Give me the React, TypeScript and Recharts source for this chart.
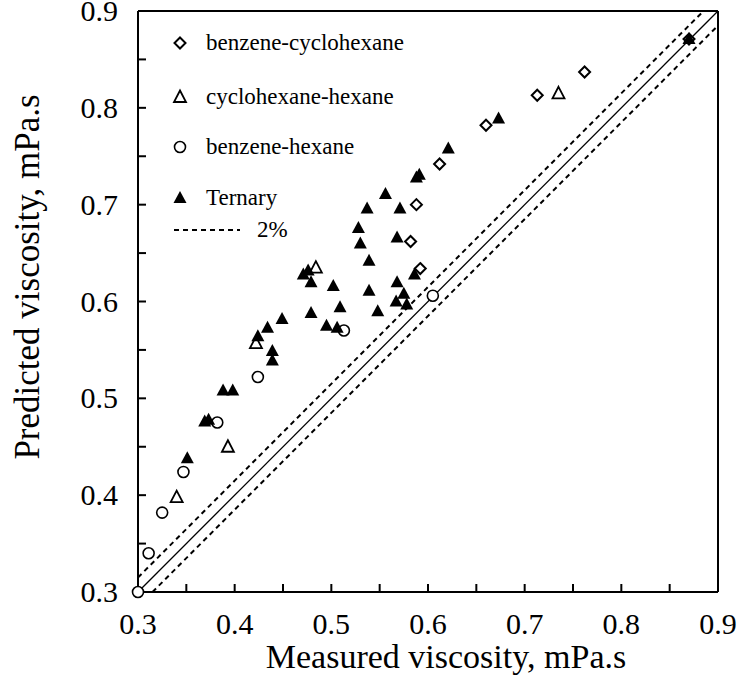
import {
  ScatterChart,
  Scatter,
  XAxis,
  YAxis,
  ReferenceLine,
  Customized,
} from 'recharts'

// measured (x) vs predicted (y) viscosity, mPa.s
const benzeneCyclohexane = [
  { x: 0.592, y: 0.634 },
  { x: 0.582, y: 0.662 },
  { x: 0.588, y: 0.700 },
  { x: 0.612, y: 0.742 },
  { x: 0.660, y: 0.782 },
  { x: 0.713, y: 0.813 },
  { x: 0.762, y: 0.837 },
  { x: 0.870, y: 0.871 },
]

const cyclohexaneHexane = [
  { x: 0.340, y: 0.398 },
  { x: 0.393, y: 0.450 },
  { x: 0.422, y: 0.557 },
  { x: 0.484, y: 0.635 },
  { x: 0.735, y: 0.815 },
]

const benzeneHexane = [
  { x: 0.300, y: 0.300 },
  { x: 0.311, y: 0.340 },
  { x: 0.325, y: 0.382 },
  { x: 0.347, y: 0.424 },
  { x: 0.382, y: 0.475 },
  { x: 0.424, y: 0.522 },
  { x: 0.513, y: 0.570 },
  { x: 0.605, y: 0.606 },
]

const ternary = [
  { x: 0.351, y: 0.438 },
  { x: 0.369, y: 0.476 },
  { x: 0.373, y: 0.478 },
  { x: 0.388, y: 0.508 },
  { x: 0.398, y: 0.508 },
  { x: 0.439, y: 0.539 },
  { x: 0.439, y: 0.549 },
  { x: 0.424, y: 0.564 },
  { x: 0.434, y: 0.573 },
  { x: 0.449, y: 0.582 },
  { x: 0.471, y: 0.628 },
  { x: 0.476, y: 0.632 },
  { x: 0.479, y: 0.620 },
  { x: 0.479, y: 0.588 },
  { x: 0.495, y: 0.575 },
  { x: 0.506, y: 0.573 },
  { x: 0.502, y: 0.616 },
  { x: 0.509, y: 0.594 },
  { x: 0.528, y: 0.676 },
  { x: 0.530, y: 0.660 },
  { x: 0.537, y: 0.696 },
  { x: 0.539, y: 0.642 },
  { x: 0.539, y: 0.611 },
  { x: 0.548, y: 0.590 },
  { x: 0.556, y: 0.711 },
  { x: 0.568, y: 0.666 },
  { x: 0.571, y: 0.696 },
  { x: 0.568, y: 0.620 },
  { x: 0.575, y: 0.608 },
  { x: 0.567, y: 0.600 },
  { x: 0.578, y: 0.597 },
  { x: 0.586, y: 0.628 },
  { x: 0.588, y: 0.728 },
  { x: 0.591, y: 0.731 },
  { x: 0.621, y: 0.758 },
  { x: 0.673, y: 0.789 },
  { x: 0.870, y: 0.871 },
]

const axisTicks = [0.3, 0.35, 0.4, 0.45, 0.5, 0.55, 0.6, 0.65, 0.7, 0.75, 0.8, 0.85, 0.9]
const band = 0.015 // offset of the dashed "2%" lines from y = x
const lo = 0.3
const hi = 0.9

// chart geometry (plot box follows from margins + axis sizes)
const W = 744
const H = 680
const margin = { top: 11, right: 26, bottom: 0, left: 0 }
const yAxisWidth = 138
const xAxisHeight = 88
const plot = {
  left: margin.left + yAxisWidth,
  right: W - margin.right,
  top: margin.top,
  bottom: H - margin.bottom - xAxisHeight,
}

const font = '"Liberation Serif", "DejaVu Serif", serif'

function Diamond({ cx, cy }: any) {
  const s = 5.5
  return (
    <polygon
      points={`${cx},${cy - s} ${cx + s},${cy} ${cx},${cy + s} ${cx - s},${cy}`}
      fill="#fff"
      stroke="#000"
      strokeWidth={2}
    />
  )
}

function OpenTriangle({ cx, cy }: any) {
  return (
    <polygon
      points={`${cx},${cy - 6.5} ${cx + 6},${cy + 5} ${cx - 6},${cy + 5}`}
      fill="#fff"
      stroke="#000"
      strokeWidth={1.8}
    />
  )
}

function OpenCircle({ cx, cy }: any) {
  return <circle cx={cx} cy={cy} r={5.5} fill="#fff" stroke="#000" strokeWidth={1.6} />
}

function FilledTriangle({ cx, cy }: any) {
  return <polygon points={`${cx},${cy - 7} ${cx + 6.5},${cy + 5} ${cx - 6.5},${cy + 5}`} fill="#000" />
}

const isMajor = (v: number) => Math.abs(v * 10 - Math.round(v * 10)) < 1e-6

function XTick({ x, y, payload }: any) {
  if (!isMajor(payload.value)) return <g />
  return (
    <text x={x} y={y + 42} textAnchor="middle" fontSize={30} fontFamily={font} fill="#000">
      {payload.value.toFixed(1)}
    </text>
  )
}

function YTick({ x, y, payload }: any) {
  if (!isMajor(payload.value)) return <g />
  return (
    <text x={x - 20} y={y + 10} textAnchor="end" fontSize={30} fontFamily={font} fill="#000">
      {payload.value.toFixed(1)}
    </text>
  )
}

// inward tick marks, plus legend and axis titles
function Decorations() {
  const px = (v: number) => plot.left + ((v - lo) / (hi - lo)) * (plot.right - plot.left)
  const py = (v: number) => plot.bottom - ((v - lo) / (hi - lo)) * (plot.bottom - plot.top)
  const inner = axisTicks.slice(1, -1)
  const rows = [
    { label: 'benzene-cyclohexane', y: 43, Marker: Diamond },
    { label: 'cyclohexane-hexane', y: 97, Marker: OpenTriangle },
    { label: 'benzene-hexane', y: 147, Marker: OpenCircle },
    { label: 'Ternary', y: 198, Marker: FilledTriangle },
  ]
  return (
    <g fontFamily={font} fill="#000">
      {inner.map(v => (
        <line key={`xt${v}`} x1={px(v)} y1={plot.bottom} x2={px(v)} y2={plot.bottom - 8} stroke="#000" strokeWidth={2} />
      ))}
      {inner.map(v => (
        <line key={`yt${v}`} x1={plot.left} y1={py(v)} x2={plot.left + 8} y2={py(v)} stroke="#000" strokeWidth={2} />
      ))}
      {rows.map(r => (
        <g key={r.label}>
          <r.Marker cx={180} cy={r.y} />
          <text x={206} y={r.y + 7} fontSize={23}>{r.label}</text>
        </g>
      ))}
      <line x1={174} y1={230} x2={240} y2={230} stroke="#000" strokeWidth={2} strokeDasharray="5 4" />
      <text x={257} y={237} fontSize={23}>2%</text>
      <text x={446} y={668} textAnchor="middle" fontSize={34}>Measured viscosity, mPa.s</text>
      <text x={0} y={0} textAnchor="middle" fontSize={35} transform="translate(39, 277) rotate(-90)">
        Predicted viscosity, mPa.s
      </text>
    </g>
  )
}

export default function App() {
  return (
    <div style={{ position: 'absolute', left: 0, top: 0, background: '#fff' }}>
      <ScatterChart width={W} height={H} margin={margin} style={{ fontFamily: font }}>
        <XAxis
          type="number"
          dataKey="x"
          domain={[lo, hi]}
          ticks={axisTicks}
          height={xAxisHeight}
          tickSize={0}
          tickMargin={0}
          tickLine={false}
          axisLine={{ stroke: '#000', strokeWidth: 2 }}
          tick={(props: any) => <XTick {...props} />}
          interval={0}
        />
        <YAxis
          type="number"
          dataKey="y"
          domain={[lo, hi]}
          ticks={axisTicks}
          width={yAxisWidth}
          tickSize={0}
          tickMargin={0}
          tickLine={false}
          axisLine={{ stroke: '#000', strokeWidth: 2 }}
          tick={(props: any) => <YTick {...props} />}
          interval={0}
        />
        <ReferenceLine y={hi} stroke="#000" strokeWidth={2} />
        <ReferenceLine x={hi} stroke="#000" strokeWidth={2} />
        <ReferenceLine
          segment={[{ x: lo, y: lo }, { x: hi, y: hi }]}
          stroke="#000"
          strokeWidth={1.3}
        />
        <ReferenceLine
          segment={[{ x: lo, y: lo + band }, { x: hi - band, y: hi }]}
          stroke="#000"
          strokeWidth={2}
          strokeDasharray="5 4"
        />
        <ReferenceLine
          segment={[{ x: lo + band, y: lo }, { x: hi, y: hi - band }]}
          stroke="#000"
          strokeWidth={2}
          strokeDasharray="5 4"
        />
        <Scatter data={benzeneHexane} shape={<OpenCircle />} isAnimationActive={false} />
        <Scatter data={cyclohexaneHexane} shape={<OpenTriangle />} isAnimationActive={false} />
        <Scatter data={benzeneCyclohexane} shape={<Diamond />} isAnimationActive={false} />
        <Scatter data={ternary} shape={<FilledTriangle />} isAnimationActive={false} />
        <Customized component={Decorations} />
      </ScatterChart>
    </div>
  )
}
